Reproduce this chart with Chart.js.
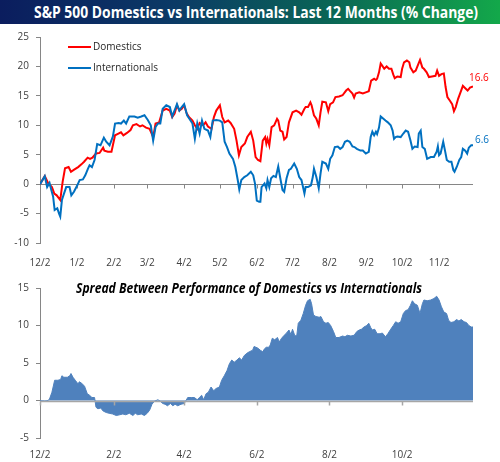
<!DOCTYPE html>
<html>
<head>
<meta charset="utf-8">
<script src="https://cdn.jsdelivr.net/npm/chart.js@4.4.1/dist/chart.umd.min.js"></script>
<style>
  html, body { margin: 0; padding: 0; background: #fff; }
  #page { position: relative; width: 500px; height: 462px; overflow: hidden; }
  #title {
    position: absolute; left: 0; top: 0; width: 500px; height: 24px;
    background: linear-gradient(to right, #0b1d5e 0%, #0b3a66 35%, #0a6456 65%, #13a84a 100%);
    color: #fff; font: bold 16px 'Open Sans', sans-serif; line-height: 24px;
    text-align: center; white-space: nowrap;
  }
  #title span { display: inline-block; transform-origin: center; }
  canvas { position: absolute; left: 0; }
</style>
</head>
<body>
<div id="page">
  <div id="title"><span>S&amp;P 500 Domestics vs Internationals: Last 12 Months (% Change)</span></div>
  <canvas id="top-chart" width="500" height="246" style="top:24px"></canvas>
  <canvas id="spread-chart" width="500" height="192" style="top:270px"></canvas>
</div>
<script>
// days counted from 12/2
const monthDays = [0, 31, 62, 90, 121, 151, 182, 212, 243, 274, 304, 335];
const monthLabels = ['12/2', '1/2', '2/2', '3/2', '4/2', '5/2', '6/2', '7/2', '8/2', '9/2', '10/2', '11/2'];
const spreadTickDays = [0, 62, 121, 182, 243, 304];
const spreadTickLabels = ['12/2', '2/2', '4/2', '6/2', '8/2', '10/2'];

const domDays = [0, 4, 7, 10, 12, 14, 17, 19, 21, 24, 26, 29, 32, 35, 37, 40, 42, 44, 47, 50, 53, 54, 57, 60,
  63, 65, 68, 70, 73, 76, 78, 81, 84, 86, 89, 92, 95, 97, 100, 103, 106, 109, 111, 113, 115, 117, 119, 121,
  123, 125, 128, 130, 132, 134, 137, 139, 141, 144, 146, 148, 151, 153, 155, 158, 160, 163, 165, 167, 169,
  172, 174, 177, 179, 181, 183, 185, 187, 189, 190, 191, 192.5, 194.4, 196.6, 199, 200, 201.7, 203.6, 205,
  207, 209, 212, 215, 217.6, 219.5, 222, 223, 225, 227, 228, 230, 232, 234, 235.5, 237, 240, 242, 243.6,
  246, 248, 251, 254, 257, 258.7, 260, 262.3, 263.7, 265, 268, 271, 273.5, 276, 278, 280.5, 282, 283,
  284.6, 286, 287.4, 289, 291, 293, 295, 296.6, 297.8, 300, 302.8, 304, 305.6, 308, 310, 311, 313.4, 315.4,
  317, 319, 321, 322.3, 324.6, 326.5, 329, 332, 333.4, 335, 337, 339, 340.5, 342, 344, 346, 347.5, 349,
  351, 353, 355, 357, 359, 361, 363.5];
const domVals = [0, 1.35, 0.1, -0.5, -1.6, -1.9, -2.7, 0.4, 2.7, 2.9, 2.1, 2.5, 2.9, 3.4, 3.8, 4.5, 4.3, 4.5,
  5.2, 5.3, 6.2, 5.7, 5.5, 5.5, 8.3, 8.5, 8.8, 8.3, 8.7, 9.2, 10.0, 10.2, 9.8, 10.0, 9.6, 9.4, 8.0, 10.3,
  10.5, 12.5, 12.8, 12.5, 11.4, 12.0, 13.4, 12.5, 12.8, 13.4, 12.1, 11.4, 10.8, 10.0, 9.4, 10.4, 10.0, 10.5,
  9.8, 9.4, 11.4, 12.5, 13.4, 11.4, 10.5, 10.8, 10.4, 9.4, 7.4, 4.9, 6.3, 6.9, 8.0, 8.9, 7.4, 4.6, 4.1, 3.9,
  7.4, 8.0, 6.9, 7.7, 6.6, 9.7, 10.0, 11.1, 10.8, 9.1, 8.9, 7.6, 8.0, 10.5, 12.2, 12.5, 12.2, 11.8, 12.8,
  13.1, 13.1, 13.9, 13.4, 11.7, 11.1, 10.0, 12.2, 14.0, 13.9, 12.4, 13.6, 13.9, 14.8, 14.9, 15.1, 15.9, 16.2,
  15.9, 15.4, 14.7, 15.4, 15.6, 15.4, 15.6, 15.8, 17.6, 17.9, 17.7, 17.9, 19.0, 20.5, 20.1, 19.6, 20.0, 19.6,
  19.6, 18.6, 18.0, 18.3, 18.2, 19.6, 20.7, 21.0, 20.7, 19.8, 19.0, 19.3, 20.1, 21.1, 19.8, 19.6, 19.0, 18.2,
  18.3, 18.4, 19.3, 18.4, 18.7, 18.8, 16.5, 14.8, 14.2, 13.6, 12.4, 13.1, 14.5, 15.6, 16.7, 16.3, 15.9, 16.4,
  16.6];

const intlDays = [0, 4, 6, 8, 9.5, 11, 12.3, 14.5, 16, 17, 18.4, 20, 22, 24.8, 26.3, 28.5, 31.3, 33.3, 36, 38,
  40.2, 41.6, 43.6, 45.8, 48, 50.8, 53.6, 55.6, 58.4, 61.2, 63, 66, 68, 70.4, 72.3, 75, 79.3, 82, 85, 87.7,
  90.5, 93, 95, 97, 99, 101, 103, 106, 109, 111, 113.5, 115, 117, 119, 121, 123.5, 125.4, 128, 130, 132, 134,
  136, 138, 141, 143, 145, 148, 151, 153, 155, 157, 159, 162, 164, 166, 167.3, 169, 171.5, 174, 177, 179,
  180.5, 182, 184, 185, 186, 188.5, 190, 191, 192.5, 194, 196, 198, 200, 202, 203.6, 205, 207, 209, 210.6,
  213.4, 215.6, 217.6, 219.5, 222, 223, 225, 227.5, 229, 230, 232, 234, 235.5, 237, 240, 242, 243.6, 245.5,
  247.5, 250, 252, 254, 256, 258, 260, 262.3, 264, 266, 269, 271, 273.5, 276, 277.6, 279, 280.5, 282, 283,
  284.6, 286, 288.3, 290, 292, 294.4, 296, 297.2, 298.6, 300, 302.8, 305, 307, 309, 311, 312.6, 314.5, 317,
  318, 319.6, 321, 323, 325, 328, 330.7, 333, 334, 335, 336.3, 338.5, 340, 341.5, 343.5, 345.4, 347, 348,
  350, 352, 353.6, 355, 357, 358.6, 360, 362, 363.5];
const intlVals = [0, 1.35, -0.5, 0.2, -1.0, -2.1, -4.4, -4.1, -5.0, -5.5, -2.7, -1.7, -0.5, -0.5, -1.9, -1.3,
  -0.2, 0.7, 0.8, 1.5, 2.6, 3.2, 2.9, 4.1, 6.8, 6.6, 7.9, 7.2, 6.6, 8.1, 10.3, 10.4, 10.3, 10.8, 10.3, 11.5,
  11.5, 11.3, 11.5, 11.7, 10.9, 10.0, 7.4, 9.7, 10.3, 10.3, 12.8, 13.4, 13.1, 11.5, 12.8, 13.6, 12.5, 13.1,
  13.6, 11.7, 11.1, 10.3, 7.7, 10.3, 8.6, 10.8, 9.4, 9.1, 8.0, 10.8, 10.9, 10.8, 10.5, 7.2, 6.3, 5.2, 4.3,
  2.9, 0.7, -0.9, 0.7, 1.2, 1.5, 2.1, 1.5, 0.1, -2.8, -3.0, -3.0, -0.5, 0.1, -0.7, 0.7, -0.5, 1.0, 1.4, 1.2,
  3.0, 0.7, -1.0, -1.3, 1.0, 2.4, 2.6, 3.5, 2.6, 1.2, 0.7, -1.6, -0.5, -0.5, -0.2, 1.2, 2.6, 1.2, -0.7, 1.8,
  3.8, 3.5, 2.6, 4.3, 4.9, 6.3, 6.4, 6.0, 6.3, 7.2, 7.4, 7.2, 6.4, 6.3, 6.0, 5.7, 5.7, 5.2, 5.5, 8.0, 8.9,
  8.3, 8.9, 8.5, 9.6, 11.5, 11.1, 10.8, 10.5, 10.0, 9.1, 7.7, 8.0, 8.1, 8.0, 8.6, 9.1, 8.9, 7.4, 6.0, 6.4,
  6.3, 8.6, 9.1, 6.3, 6.0, 4.3, 4.6, 4.6, 5.5, 6.4, 4.9, 5.2, 7.2, 5.7, 4.1, 3.8, 3.8, 2.4, 2.1, 3.0, 4.1,
  4.6, 6.0, 5.7, 5.2, 6.2, 6.6, 6.6];

const spreadDays = [0, 4, 6.7, 8, 10, 12.3, 15, 17.3, 18.4, 20, 23, 25, 26, 27.7, 29.6, 32, 33, 35, 37.4,
  39.7, 41.6, 43.6, 45.8, 47, 48.6, 51, 53, 55.6, 58, 61, 64, 67, 69.5, 72, 75, 78, 80, 82, 85, 87.7, 90, 92,
  94, 96, 99, 101, 103, 105, 107, 109.5, 111.5, 113.4, 115.6, 118.4, 121, 122.6, 124, 127, 129.6, 132,
  133.8, 135.7, 137.4, 139.4, 141.3, 143.6, 145.8, 147.8, 150.6, 152.5, 154.7, 157, 159, 161, 163, 165.4,
  167.3, 169.3, 171.5, 173.7, 175.7, 178.5, 179.7, 182.7, 185, 187, 188.5, 190, 192, 193.3, 195, 197, 199.4,
  200.8, 202.8, 205, 207, 209, 210.6, 212, 214, 215.6, 216.8, 219, 221, 223, 224.6, 226.8, 228, 229.6,
  231.6, 234.4, 235.8, 238, 240, 242, 244, 246.4, 248.3, 251, 254, 256, 258, 261, 263.7, 266, 268, 269.8,
  272, 274.3, 276, 277.7, 279, 281, 283, 285.5, 287.4, 290, 292, 294.4, 296.6, 298.6, 300.6, 302.8, 305, 307,
  309, 311, 312.6, 314.5, 316.8, 319, 321, 322.3, 325, 328, 330.7, 333, 335, 337, 339, 341.3, 343, 345,
  347.5, 349.7, 351.7, 353.6, 356, 358, 360, 362, 363.5];
const spreadVals = [0, -0.1, 0, 0.2, 1.1, 2.7, 2.7, 2.8, 3.3, 3.1, 3.1, 3.3, 3.6, 3.1, 2.7, 2.2, 2.5, 2.3,
  1.9, 0.9, 0.7, 0.4, 0.4, -0.9, -1.1, -1.0, -1.4, -1.6, -1.7, -1.8, -2.0, -1.9, -1.8, -1.9, -1.7, -2.0,
  -1.7, -1.9, -1.8, -2.0, -1.7, -1.3, -0.5, -0.1, 0.1, -0.1, -0.4, -0.5, -0.7, -0.4, -0.7, -0.5, -0.7, -0.5,
  -0.4, 0, 0.4, 0.4, 0.4, 0.1, 0.4, 0.7, 0.1, 0.9, 1.1, 1.8, 1.3, 1.6, 1.8, 2.7, 3.3, 4.0, 4.9, 5.4, 5.1,
  5.4, 5.7, 5.4, 6.0, 6.3, 6.5, 6.7, 7.2, 7.0, 6.7, 6.5, 6.9, 7.1, 7.1, 7.4, 8.3, 8.1, 8.4, 7.8, 8.3, 8.7,
  9.0, 9.4, 8.8, 9.5, 8.6, 8.7, 10.3, 10.7, 11.6, 12.7, 13.3, 13.5, 12.9, 11.4, 11.2, 11.1, 11.2, 10.5,
  10.3, 10.4, 10.0, 9.2, 8.4, 8.4, 8.6, 8.5, 8.7, 8.6, 8.7, 9.2, 9.4, 9.5, 9.8, 10.0, 10.3, 9.7, 9.4, 9.5,
  8.9, 8.9, 9.0, 8.5, 8.9, 9.5, 10.0, 10.5, 10.3, 10.5, 11.6, 12.0, 12.1, 12.7, 13.3, 12.9, 12.7, 11.6, 12.9,
  13.4, 13.3, 13.4, 13.6, 13.9, 13.4, 12.5, 11.8, 11.6, 10.7, 10.4, 10.5, 10.8, 10.6, 10.8, 10.5, 10.4, 10.0,
  9.8, 9.8];

const lastDay = domDays[domDays.length - 1];
const axisGray = '#868686';
const textGray = '#404040';
Chart.defaults.font.family = "'Open Sans', sans-serif";
Chart.defaults.font.size = 10;

const pts = (days, vals) => days.map((d, i) => ({x: d, y: vals[i]}));

function xAxis(tickDays, tickLabels, h, pad) {
  return {
    type: 'linear', min: 0, max: lastDay,
    grid: {display: false}, border: {display: false},
    afterBuildTicks: axis => { axis.ticks = tickDays.map(v => ({value: v})); },
    afterFit: axis => { axis.height = h; },
    ticks: {autoSkip: false, maxRotation: 0, padding: pad, color: textGray,
      callback: (v, i) => tickLabels[i]}
  };
}

function yAxis(min, max) {
  return {
    min: min, max: max,
    afterFit: axis => { axis.width = 40; },
    grid: {drawOnChartArea: false, tickLength: 4, color: axisGray},
    border: {color: axisGray},
    ticks: {stepSize: 5, padding: 7, color: textGray}
  };
}

// excel style category axis sitting on the zero line
function drawZeroAxis(chart, opts) {
  const {ctx, chartArea, scales: {x, y}} = chart;
  const y0 = Math.round(y.getPixelForValue(0)) + 0.5;
  ctx.save();
  ctx.strokeStyle = opts.color;
  ctx.lineWidth = opts.width;
  ctx.beginPath();
  ctx.moveTo(chartArea.left, y0);
  ctx.lineTo(chartArea.right, y0);
  x.ticks.forEach(t => {
    const px = Math.round(x.getPixelForValue(t.value)) + 0.5;
    ctx.moveTo(px, y0);
    ctx.lineTo(px, y0 + 4);
  });
  ctx.stroke();
  ctx.restore();
}
const zeroAxis = {
  id: 'zeroAxis',
  beforeDatasetsDraw(chart, args, opts) { if (opts.before) drawZeroAxis(chart, opts); },
  afterDatasetsDraw(chart, args, opts) { if (!opts.before) drawZeroAxis(chart, opts); }
};

const topLegend = {
  id: 'topLegend',
  afterDraw(chart) {
    const ctx = chart.ctx;
    const items = [['Domestics', '#ff0000', 23], ['Internationals', '#0070c0', 44]];
    ctx.save();
    ctx.font = "10px 'Open Sans', sans-serif";
    ctx.textBaseline = 'middle';
    items.forEach(([name, color, y]) => {
      ctx.strokeStyle = color;
      ctx.lineWidth = 2;
      ctx.beginPath();
      ctx.moveTo(68, y);
      ctx.lineTo(91, y);
      ctx.stroke();
      ctx.fillStyle = '#262626';
      ctx.fillText(name, 93, y);
    });
    ctx.restore();
  }
};

const endLabels = {
  id: 'endLabels',
  afterDatasetsDraw(chart) {
    const ctx = chart.ctx;
    ctx.save();
    ctx.font = "10px 'Open Sans', sans-serif";
    ctx.textBaseline = 'middle';
    chart.data.datasets.forEach((ds, i) => {
      const pts = chart.getDatasetMeta(i).data;
      const last = pts[pts.length - 1];
      const v = ds.data[ds.data.length - 1].y;
      ctx.fillStyle = ds.borderColor;
      ctx.fillText(v.toFixed(1), last.x + ds.labelDx, last.y + ds.labelDy);
    });
    ctx.restore();
  }
};

new Chart('top-chart', {
  type: 'line',
  data: {
    datasets: [{
      label: 'Internationals',
      data: pts(intlDays, intlVals),
      borderColor: '#0070c0', borderWidth: 2, pointRadius: 0,
      labelDx: 2, labelDy: -5
    }, {
      label: 'Domestics',
      data: pts(domDays, domVals),
      borderColor: '#ff0000', borderWidth: 2, pointRadius: 0,
      labelDx: -4, labelDy: -8
    }]
  },
  options: {
    responsive: false, animation: false,
    layout: {padding: {top: 12, right: 27, left: 0, bottom: 0}},
    scales: {
      x: xAxis(monthDays, monthLabels, 27, 6),
      y: yAxis(-10, 25)
    },
    plugins: {
      legend: {display: false}, tooltip: {enabled: false},
      zeroAxis: {before: true, color: axisGray, width: 1}
    }
  },
  plugins: [zeroAxis, topLegend, endLabels]
});

const spreadTitle = {
  id: 'spreadTitle',
  afterDraw(chart) {
    const ctx = chart.ctx;
    ctx.save();
    ctx.font = "italic bold 14px 'Open Sans', sans-serif";
    ctx.fillStyle = '#000';
    ctx.textAlign = 'center';
    ctx.textBaseline = 'middle';
    ctx.fillText('Spread Between Performance of Domestics vs Internationals', 249, 19, 346);
    ctx.restore();
  }
};

new Chart('spread-chart', {
  type: 'line',
  data: {
    datasets: [{
      label: 'Spread',
      data: pts(spreadDays, spreadVals),
      borderColor: '#4f81bd', borderWidth: 1, pointRadius: 0,
      backgroundColor: '#4f81bd', fill: 'origin'
    }]
  },
  options: {
    responsive: false, animation: false,
    layout: {padding: {top: 18, right: 27, left: 0, bottom: 0}},
    scales: {
      x: xAxis(spreadTickDays, spreadTickLabels, 24, 3),
      y: yAxis(-5, 15)
    },
    plugins: {
      legend: {display: false}, tooltip: {enabled: false},
      zeroAxis: {before: false, color: '#a6a6a6', width: 1.5}
    }
  },
  plugins: [zeroAxis, spreadTitle]
});

const t = document.querySelector('#title span');
t.style.transform = 'scaleX(' + (444 / t.offsetWidth) + ')';
</script>
</body>
</html>
